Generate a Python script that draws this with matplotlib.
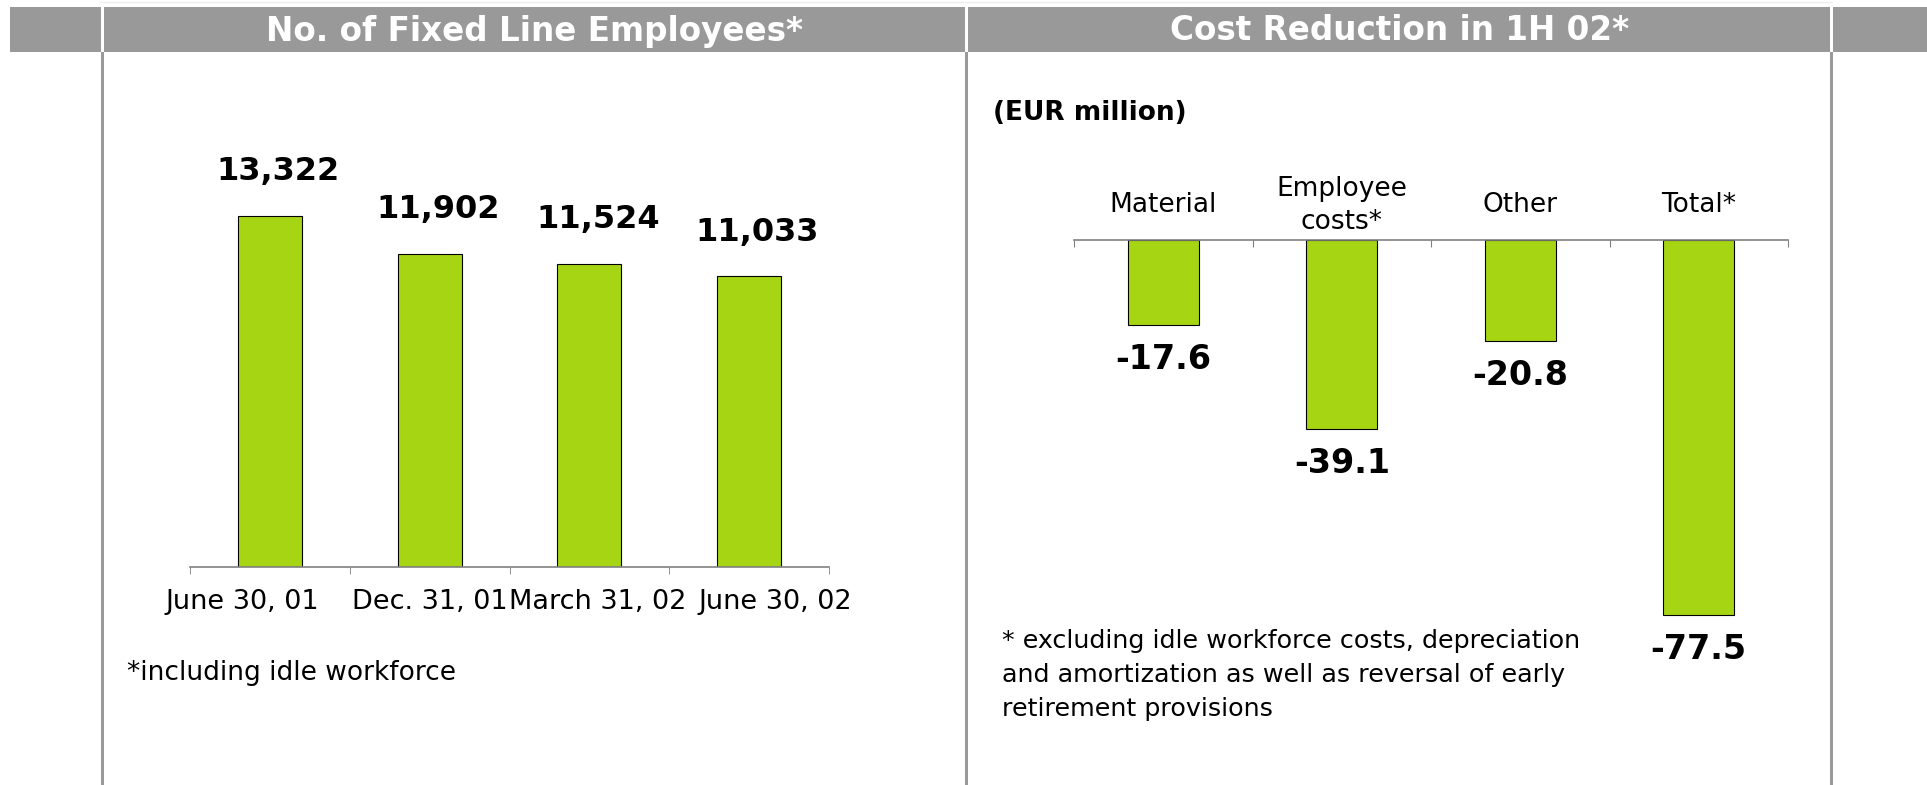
import matplotlib
matplotlib.use("Agg")
from matplotlib import pyplot as plt
from matplotlib.patches import Rectangle
import matplotlib.transforms as mtrans

W, H = 1927, 785

# left panel data
emp_dates = ["June 30, 01", "Dec. 31, 01", "March 31, 02", "June 30, 02"]
emp_counts = [13322, 11902, 11524, 11033]
emp_labels = ["13,322", "11,902", "11,524", "11,033"]

# right panel data
cost_cats = ["Material", "Employee\ncosts*", "Other", "Total*"]
cost_values = [-17.6, -39.1, -20.8, -77.5]

green = "#a6d613"
grey = "#999999"

plt.rcParams["font.family"] = "DejaVu Sans"

fig = plt.figure(figsize=(W / 100, H / 100), dpi=100)

# background layer in pixel units
bg = fig.add_axes([0, 0, 1, 1])
bg.set_xlim(0, W)
bg.set_ylim(H, 0)
bg.axis("off")

bg.plot([100, 1832], [2, 2], color="#eeeeee", lw=1)
for x0, x1 in [(10, 101), (104, 965), (968, 1830), (1833, W)]:
    bg.add_patch(Rectangle((x0, 7), x1 - x0, 45, color=grey, lw=0))
for x in [102.5, 966.5, 1831.5]:
    bg.add_patch(Rectangle((x - 1.5, 52), 3, H - 52, color=grey, lw=0))

bg.text(534, 31, "No. of Fixed Line Employees*", color="white", fontsize=23.5,
        fontweight="bold", ha="center", va="center")
bg.text(1400, 31, "Cost Reduction in 1H 02*", color="white", fontsize=23.5,
        fontweight="bold", ha="center", va="center")

bg.text(127, 673, "*including idle workforce", fontsize=19, va="center")
bg.text(993, 113, "(EUR million)", fontsize=19, fontweight="bold", va="center")
bg.text(1002, 675, "* excluding idle workforce costs, depreciation\n"
        "and amortization as well as reversal of early\n"
        "retirement provisions", fontsize=18.3, va="center", linespacing=1.55)

# left chart
ax1 = fig.add_axes([190 / W, (H - 567) / H, 639 / W, 395 / H])
ax1.patch.set_alpha(0)
x = range(len(emp_counts))
ax1.bar(x, emp_counts, width=0.4, color=green, edgecolor="black", lw=0.8)
ax1.set_xlim(-0.5, 3.5)
ax1.set_ylim(0, 15000)
for s in ["top", "right", "left"]:
    ax1.spines[s].set_visible(False)
ax1.spines["bottom"].set_color("#808080")
ax1.spines["bottom"].set_linewidth(1.2)
ax1.set_yticks([])
ax1.set_xticks(list(x))
ax1.set_xticklabels(emp_dates, fontsize=19.5)
ax1.tick_params(axis="x", length=0, pad=16)
ax1.set_xticks([-0.5, 0.5, 1.5, 2.5, 3.5], minor=True)
ax1.tick_params(axis="x", which="minor", length=5, color="#808080", direction="out")
shifts = [-28, 0, 8, 26]
for lab, dx in zip(ax1.get_xticklabels(), shifts):
    lab.set_transform(lab.get_transform() + mtrans.Affine2D().translate(dx, 0))
for i, v in enumerate(emp_counts):
    ax1.annotate(emp_labels[i], (i, v), xytext=(6, 32), textcoords="offset points",
                 ha="center", va="center", fontsize=23, fontweight="bold")

# right chart
ax2 = fig.add_axes([1074 / W, (H - 675) / H, 714 / W, 435 / H])
ax2.patch.set_alpha(0)
x = range(len(cost_values))
ax2.bar(x, cost_values, width=0.4, color=green, edgecolor="black", lw=0.8)
ax2.set_xlim(-0.5, 3.5)
ax2.set_ylim(-90, 0)
for s in ["bottom", "right", "left"]:
    ax2.spines[s].set_visible(False)
ax2.spines["top"].set_color("#808080")
ax2.spines["top"].set_linewidth(1.2)
ax2.set_yticks([])
ax2.set_xticks([-0.5, 0.5, 1.5, 2.5, 3.5])
ax2.set_xticklabels([])
ax2.tick_params(axis="x", bottom=False, top=True, length=5, direction="in", color="#808080")
for i, v in enumerate(cost_values):
    ax2.annotate(cost_cats[i], (i, 0), xytext=(0, 25), textcoords="offset points",
                 ha="center", va="center", fontsize=19, linespacing=1.35)
    ax2.annotate(f"{v:.1f}", (i, v), xytext=(0, -25), textcoords="offset points",
                 ha="center", va="center", fontsize=24, fontweight="bold")

fig.savefig("out.png", dpi=100)
